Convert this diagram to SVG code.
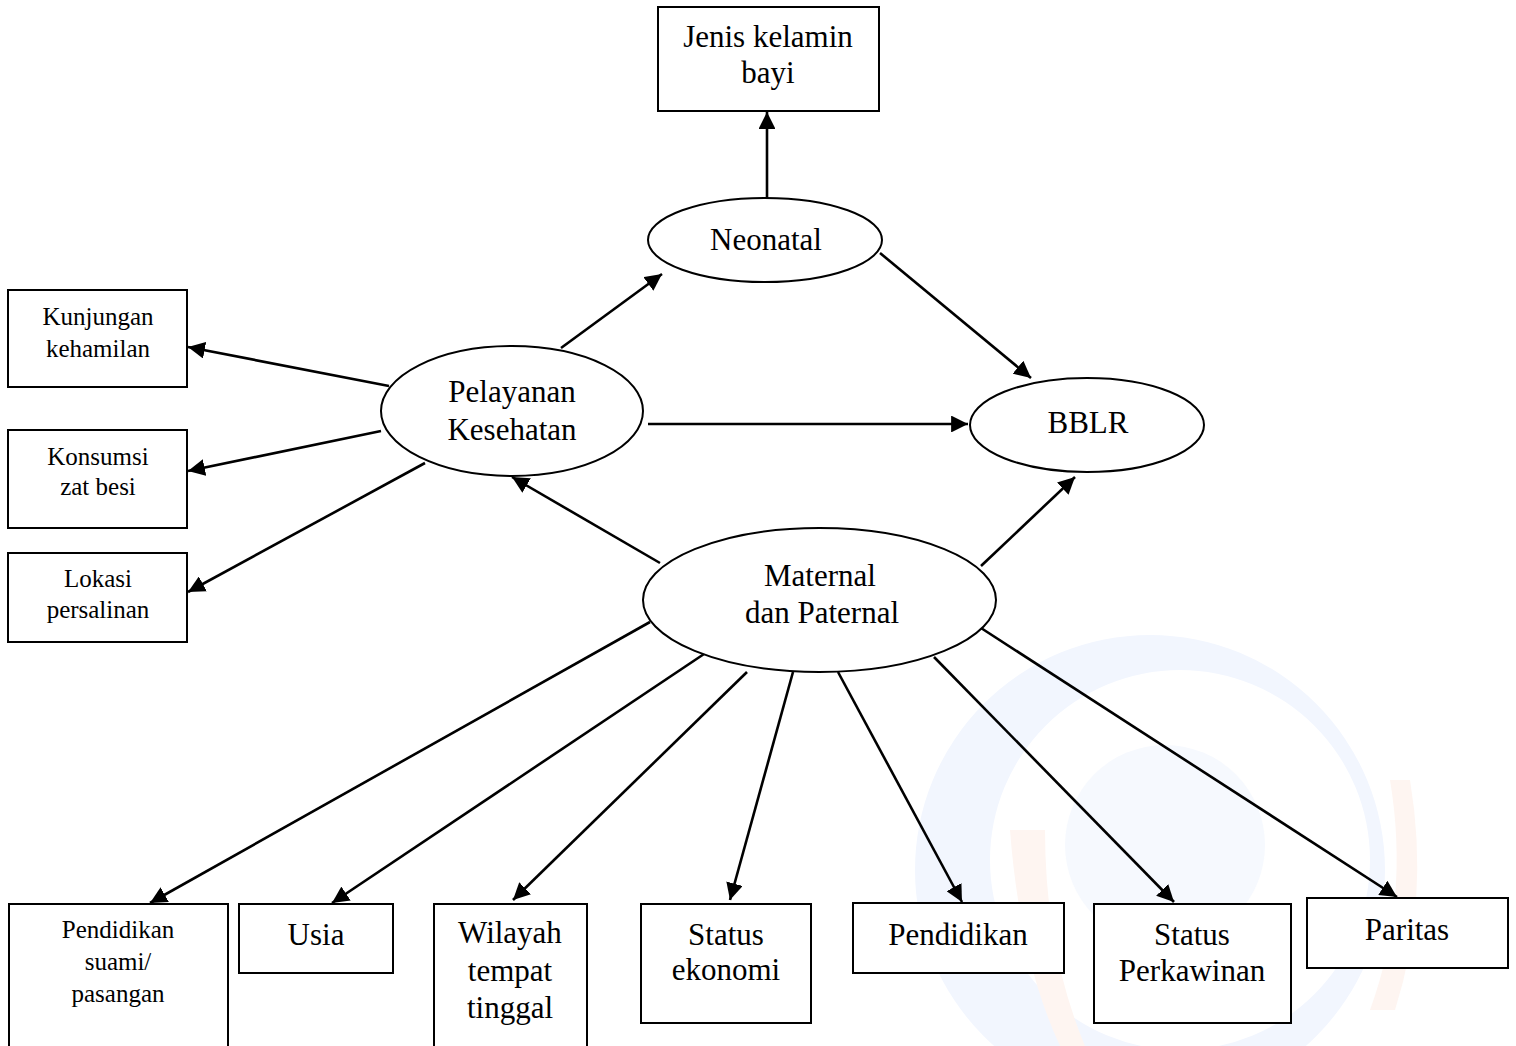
<svg xmlns="http://www.w3.org/2000/svg" width="1516" height="1046" viewBox="0 0 1516 1046">
<style>
.box{fill:#fff;stroke:#000;stroke-width:2}
.ell{fill:#fff;stroke:#000;stroke-width:2}
.big{font-family:"Liberation Serif","Times New Roman",serif;font-size:31px;fill:#000;text-anchor:middle}
.sm{font-family:"Liberation Serif","Times New Roman",serif;font-size:25px;fill:#000;text-anchor:middle}
.con{stroke:#000;stroke-width:2.6;fill:none;marker-end:url(#ah)}
</style>
<defs>
<marker id="ah" viewBox="0 0 10 10" refX="10" refY="5" markerWidth="6.5" markerHeight="6.5" markerUnits="strokeWidth" orient="auto">
<path d="M0,0 L10,5 L0,10 z" fill="#000"/>
</marker>
</defs>
<rect width="1516" height="1046" fill="#fff"/>
<g id="watermark">
<path d="M915,870 A235,235 0 1 1 1385,870 A235,235 0 1 1 915,870 Z M990,860 A190,190 0 1 0 1370,860 A190,190 0 1 0 990,860 Z" fill="#f2f6fe" fill-rule="evenodd"/>
<circle cx="1165" cy="845" r="100" fill="#f6f9fe"/>
<path d="M1010,830 Q1020,960 1060,1046 L1085,1046 Q1045,950 1045,830 Z" fill="#fef5f1"/>
<path d="M1390,780 Q1410,900 1370,1010 L1395,1010 Q1430,900 1410,780 Z" fill="#fef5f1"/>
</g>
<g id="connectors">
<line class="con" x1="767" y1="198" x2="767" y2="112"/>
<line class="con" x1="561" y1="348" x2="662" y2="274"/>
<line class="con" x1="880" y1="253" x2="1031" y2="378"/>
<line class="con" x1="648" y1="424" x2="968" y2="424"/>
<line class="con" x1="981" y1="566" x2="1075" y2="477"/>
<line class="con" x1="660" y1="563" x2="512" y2="477"/>
<line class="con" x1="389" y1="386" x2="188" y2="347"/>
<line class="con" x1="381" y1="431" x2="188" y2="471"/>
<line class="con" x1="425" y1="463" x2="188" y2="592"/>
<line class="con" x1="650" y1="622" x2="150" y2="903"/>
<line class="con" x1="707" y1="652" x2="332" y2="903"/>
<line class="con" x1="747" y1="672" x2="513" y2="900"/>
<line class="con" x1="793" y1="672" x2="730" y2="900"/>
<line class="con" x1="838" y1="672" x2="962" y2="902"/>
<line class="con" x1="934" y1="657" x2="1174" y2="902"/>
<line class="con" x1="981" y1="628" x2="1397" y2="897"/>
</g>
<g id="jenis"><rect class="box" x="658" y="7" width="221" height="104"/><text class="big" x="768" y="47">Jenis kelamin</text><text class="big" x="768" y="83">bayi</text></g>
<g id="neonatal"><ellipse class="ell" cx="765" cy="240" rx="117" ry="42"/><text class="big" x="766" y="250">Neonatal</text></g>
<g id="pelayanan"><ellipse class="ell" cx="512" cy="411" rx="131" ry="65"/><text class="big" x="512" y="402">Pelayanan</text><text class="big" x="512" y="440">Kesehatan</text></g>
<g id="bblr"><ellipse class="ell" cx="1087" cy="425" rx="117" ry="47"/><text class="big" x="1088" y="433">BBLR</text></g>
<g id="maternal"><ellipse class="ell" cx="819.5" cy="600" rx="176.5" ry="72"/><text class="big" x="820" y="586">Maternal</text><text class="big" x="822" y="623">dan Paternal</text></g>
<g id="kunjungan"><rect class="box" x="8" y="290" width="179" height="97"/><text class="sm" x="98" y="325">Kunjungan</text><text class="sm" x="98" y="357">kehamilan</text></g>
<g id="konsumsi"><rect class="box" x="8" y="430" width="179" height="98"/><text class="sm" x="98" y="465">Konsumsi</text><text class="sm" x="98" y="495">zat besi</text></g>
<g id="lokasi"><rect class="box" x="8" y="553" width="179" height="89"/><text class="sm" x="98" y="587">Lokasi</text><text class="sm" x="98" y="618">persalinan</text></g>
<g id="pendidikan-suami"><rect class="box" x="9" y="904" width="219" height="150"/><text class="sm" x="118" y="938">Pendidikan</text><text class="sm" x="118" y="970">suami/</text><text class="sm" x="118" y="1002">pasangan</text></g>
<g id="usia"><rect class="box" x="239" y="904" width="154" height="69"/><text class="big" x="316" y="945">Usia</text></g>
<g id="wilayah"><rect class="box" x="434" y="904" width="153" height="150"/><text class="big" x="510" y="943">Wilayah</text><text class="big" x="510" y="981">tempat</text><text class="big" x="510" y="1018">tinggal</text></g>
<g id="status-ekonomi"><rect class="box" x="641" y="904" width="170" height="119"/><text class="big" x="726" y="945">Status</text><text class="big" x="726" y="980">ekonomi</text></g>
<g id="pendidikan"><rect class="box" x="853" y="903" width="211" height="70"/><text class="big" x="958" y="945">Pendidikan</text></g>
<g id="status-perkawinan"><rect class="box" x="1094" y="904" width="197" height="119"/><text class="big" x="1192" y="945">Status</text><text class="big" x="1192" y="981">Perkawinan</text></g>
<g id="paritas"><rect class="box" x="1307" y="898" width="201" height="70"/><text class="big" x="1407" y="940">Paritas</text></g>
</svg>
